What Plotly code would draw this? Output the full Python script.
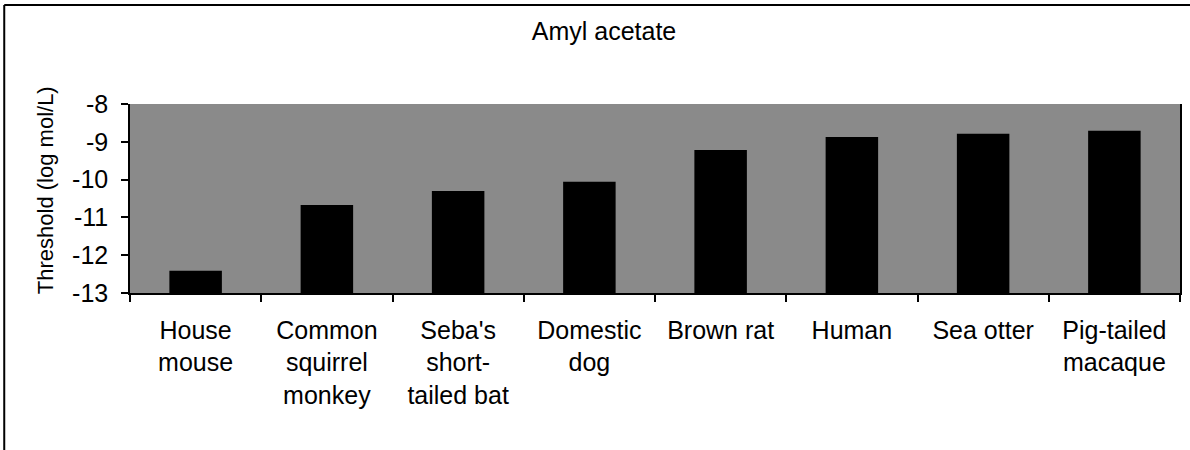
import plotly.graph_objects as go

# Olfactory detection thresholds for amyl acetate, by species
species = [
    "House<br>mouse",
    "Common<br>squirrel<br>monkey",
    "Seba's<br>short-<br>tailed bat",
    "Domestic<br>dog",
    "Brown rat",
    "Human",
    "Sea otter",
    "Pig-tailed<br>macaque",
]
threshold = [-12.41, -10.67, -10.30, -10.06, -9.22, -8.87, -8.79, -8.71]
y_ticks = [-8, -9, -10, -11, -12, -13]
base = -13

W, H = 1190, 450
L, R, T, B = 130, 8, 104, 157
pw, ph = W - L - R, H - T - B


def px_x(x):
    return (x - L) / pw


def px_y(y):
    return (H - B - y) / ph


font = "Liberation Sans, Arial, sans-serif"

fig = go.Figure(
    go.Bar(
        x=species,
        y=[v - base for v in threshold],
        base=base,
        marker=dict(color="black", line=dict(width=0)),
        width=0.4,
    )
)

fig.update_layout(
    width=W,
    height=H,
    margin=dict(l=L, r=R, t=T, b=B),
    paper_bgcolor="white",
    plot_bgcolor="#8a8a8a",
    showlegend=False,
    title=dict(
        text="Amyl acetate",
        x=604 / W,
        xanchor="center",
        y=1 - 31 / H,
        yanchor="middle",
        font=dict(family=font, size=25, color="black"),
    ),
    font=dict(family=font, color="black"),
    bargap=0.6,
)

fig.update_xaxes(
    showline=True,
    linecolor="black",
    linewidth=1.5,
    ticks="outside",
    tickson="boundaries",
    ticklen=7,
    tickcolor="black",
    tickwidth=1.5,
    ticklabelstandoff=14,
    tickfont=dict(family=font, size=25, color="black"),
    showgrid=False,
    tickangle=0,
)

fig.update_yaxes(
    range=[-13, -8],
    tickvals=y_ticks,
    ticktext=[str(v) for v in y_ticks],
    showline=True,
    linecolor="black",
    linewidth=1.5,
    mirror=True,
    ticks="outside",
    ticklen=7,
    tickcolor="black",
    tickwidth=1.5,
    ticklabelstandoff=8,
    tickfont=dict(family=font, size=25, color="black"),
    showgrid=False,
    zeroline=False,
)

# Rotated axis title
fig.add_annotation(
    text="Threshold (log mol/L)",
    textangle=-90,
    xref="paper",
    yref="paper",
    x=px_x(45),
    y=px_y(190),
    xanchor="center",
    yanchor="middle",
    showarrow=False,
    font=dict(family=font, size=22, color="black"),
)

# Outer chart frame (left and top edges)
fig.add_shape(
    type="line", xref="paper", yref="paper",
    x0=px_x(4), y0=px_y(5), x1=px_x(1195), y1=px_y(5),
    line=dict(color="black", width=2),
)
fig.add_shape(
    type="line", xref="paper", yref="paper",
    x0=px_x(4), y0=px_y(5), x1=px_x(4), y1=px_y(455),
    line=dict(color="black", width=2),
)

fig.write_html("out.html")
